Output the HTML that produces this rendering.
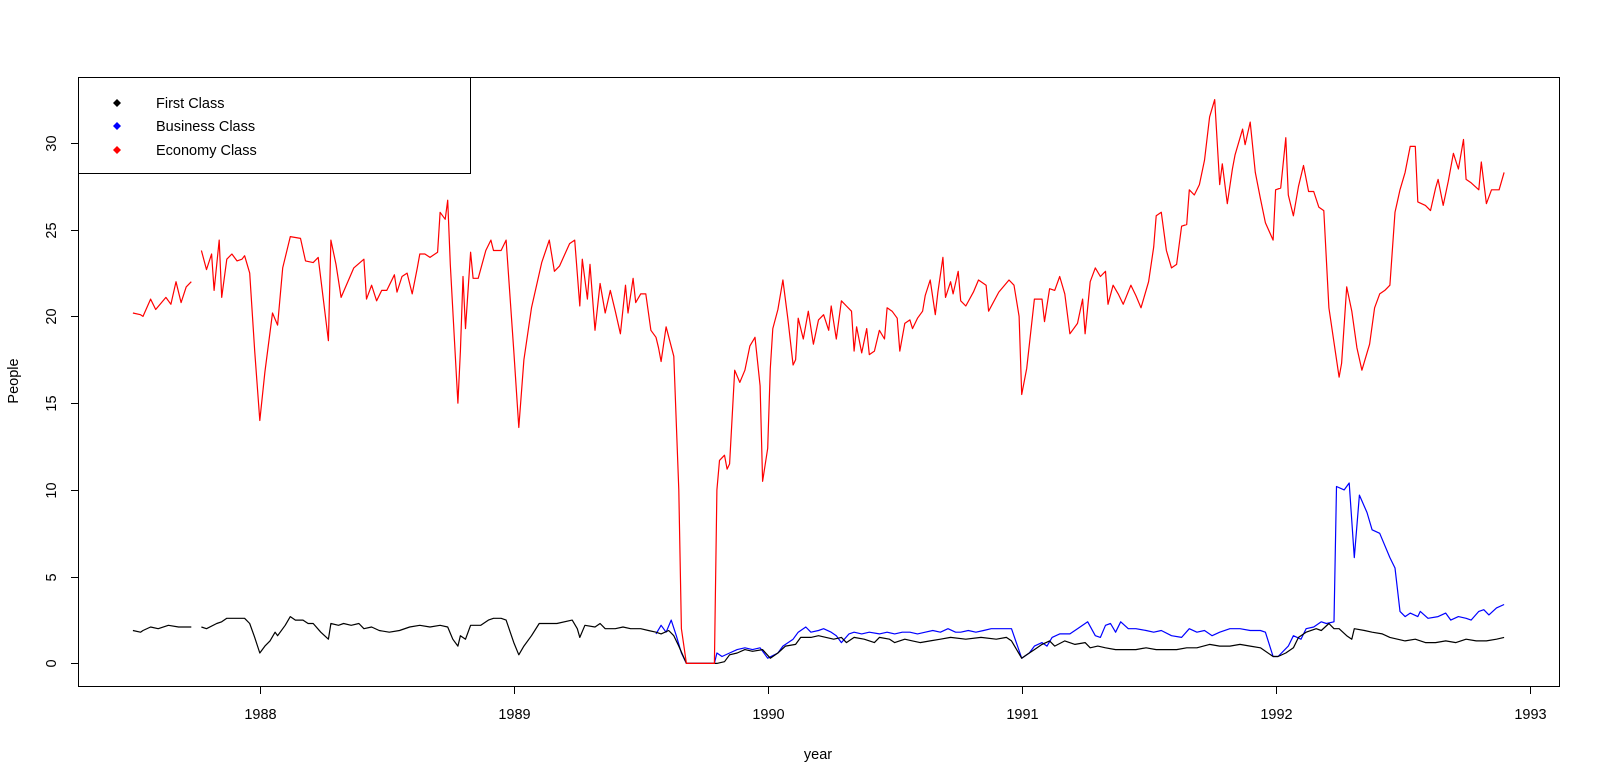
<!DOCTYPE html>
<html><head><meta charset="utf-8">
<style>
html,body{margin:0;padding:0;background:#fff;}
svg{display:block;font-family:"Liberation Sans",Arial,sans-serif;}
</style></head>
<body>
<svg id="chart" width="1600" height="783" viewBox="0 0 1600 783" xmlns="http://www.w3.org/2000/svg">
<rect x="0" y="0" width="1600" height="783" fill="#fff"/>
<g id="series"></g>
<g id="axes"></g>
<rect x="78.5" y="77.5" width="1481" height="609" fill="none" stroke="#000" stroke-width="1"/>
<g>
  <rect x="78.5" y="77.5" width="392" height="96" fill="#fff" stroke="#000" stroke-width="1"/>
  <g>
    <path d="M117 99 L121 103 L117 107 L113 103 Z" fill="#000"/>
    <text x="156" y="108" font-size="14.5" fill="#000">First Class</text>
  </g>
  <g>
    <path d="M117 122 L121 126 L117 130 L113 126 Z" fill="#0000ff"/>
    <text x="156" y="131" font-size="14.5" fill="#000">Business Class</text>
  </g>
  <g>
    <path d="M117 146 L121 150 L117 154 L113 150 Z" fill="#ff0000"/>
    <text x="156" y="155" font-size="14.5" fill="#000">Economy Class</text>
  </g>
</g>
<text x="818" y="759" font-size="14.5" text-anchor="middle">year</text>
<text x="18" y="381" font-size="14.5" text-anchor="middle" transform="rotate(-90 18 381)">People</text>
</svg>
<script>
const xTicks = [1988, 1989, 1990, 1991, 1992, 1993];
const yTicks = [0, 5, 10, 15, 20, 25, 30];

const ecoYears = [1987.50,1987.53,1987.54,1987.57,1987.59,1987.63,1987.65,1987.67,1987.69,1987.71,1987.73,null,
1987.77,1987.79,1987.81,1987.82,1987.84,1987.85,1987.87,1987.89,1987.91,1987.93,1987.94,1987.96,1987.98,
1988.00,1988.02,1988.05,1988.07,1988.09,1988.12,1988.16,1988.18,1988.21,1988.23,1988.25,1988.27,1988.28,1988.30,1988.32,1988.37,1988.41,1988.42,1988.44,1988.46,1988.48,1988.50,1988.53,1988.54,1988.56,1988.58,1988.60,1988.62,1988.63,1988.65,1988.67,1988.70,1988.71,1988.73,1988.74,1988.75,1988.78,1988.79,1988.80,1988.81,1988.83,1988.84,1988.86,1988.89,1988.91,1988.92,1988.95,1988.97,
1989.00,1989.02,1989.04,1989.07,1989.11,1989.14,1989.16,1989.18,1989.22,1989.24,1989.26,1989.27,1989.29,1989.30,1989.32,1989.34,1989.36,1989.38,1989.40,1989.42,1989.44,1989.45,1989.47,1989.48,1989.50,1989.52,1989.54,1989.56,1989.57,1989.58,1989.60,1989.63,1989.65,1989.66,1989.68,1989.79,1989.80,1989.81,1989.83,1989.84,1989.85,1989.87,1989.89,1989.91,1989.93,1989.95,1989.97,1989.98,
1990.00,1990.01,1990.02,1990.04,1990.06,1990.08,1990.10,1990.11,1990.12,1990.14,1990.16,1990.18,1990.20,1990.22,1990.24,1990.25,1990.27,1990.29,1990.31,1990.33,1990.34,1990.35,1990.37,1990.39,1990.40,1990.42,1990.44,1990.46,1990.47,1990.49,1990.51,1990.52,1990.54,1990.56,1990.57,1990.59,1990.61,1990.62,1990.64,1990.66,1990.67,1990.69,1990.70,1990.72,1990.73,1990.75,1990.76,1990.78,1990.81,1990.83,1990.86,1990.87,1990.91,1990.95,1990.97,1990.99,
1991.00,1991.02,1991.05,1991.08,1991.09,1991.11,1991.13,1991.15,1991.17,1991.19,1991.22,1991.24,1991.25,1991.27,1991.29,1991.31,1991.33,1991.34,1991.36,1991.38,1991.40,1991.43,1991.45,1991.47,1991.50,1991.52,1991.53,1991.55,1991.57,1991.59,1991.61,1991.63,1991.65,1991.66,1991.68,1991.70,1991.72,1991.74,1991.76,1991.78,1991.79,1991.81,1991.83,1991.84,1991.87,1991.88,1991.90,1991.92,1991.94,1991.96,1991.99,
1992.00,1992.02,1992.04,1992.05,1992.07,1992.09,1992.11,1992.13,1992.15,1992.17,1992.19,1992.21,1992.23,1992.25,1992.26,1992.28,1992.30,1992.32,1992.34,1992.36,1992.37,1992.39,1992.41,1992.43,1992.45,1992.47,1992.49,1992.51,1992.53,1992.55,1992.56,1992.59,1992.61,1992.63,1992.64,1992.66,1992.68,1992.70,1992.72,1992.74,1992.75,1992.77,1992.80,1992.81,1992.83,1992.85,1992.88,1992.90];
const ecoValues = [20.2,20.1,20.0,21.0,20.4,21.1,20.7,22.0,20.8,21.7,22.0,null,
23.8,22.7,23.6,21.5,24.4,21.1,23.3,23.6,23.2,23.3,23.5,22.5,18.0,
14.0,16.8,20.2,19.5,22.8,24.6,24.5,23.2,23.1,23.4,21.0,18.6,24.4,23.0,21.1,22.8,23.3,21.0,21.8,20.9,21.5,21.5,22.4,21.4,22.3,22.5,21.3,22.8,23.6,23.6,23.4,23.7,26.0,25.6,26.7,23.0,15.0,18.0,22.3,19.3,23.7,22.2,22.2,23.8,24.4,23.8,23.8,24.4,
18.0,13.6,17.5,20.5,23.1,24.4,22.6,22.9,24.2,24.4,20.6,23.3,21.0,23.0,19.2,21.9,20.2,21.5,20.3,19.0,21.8,20.2,22.2,20.8,21.3,21.3,19.2,18.8,18.2,17.4,19.4,17.7,10,2,0,0,10,11.7,12,11.2,11.5,16.9,16.2,16.9,18.3,18.8,16,10.5,
12.4,17,19.3,20.4,22.1,19.8,17.2,17.5,19.9,18.7,20.3,18.4,19.8,20.1,19.2,20.6,18.7,20.9,20.6,20.3,18.0,19.4,17.9,19.3,17.8,18.0,19.2,18.7,20.5,20.3,19.9,18.0,19.6,19.8,19.3,19.9,20.3,21.2,22.1,20.1,21.4,23.4,21.1,22.0,21.3,22.6,20.9,20.6,21.4,22.1,21.8,20.3,21.4,22.1,21.8,20.0,
15.5,17.0,21.0,21.0,19.7,21.6,21.5,22.3,21.3,19.0,19.6,21.0,19.0,22.0,22.8,22.3,22.6,20.7,21.8,21.3,20.7,21.8,21.2,20.5,22.0,24.0,25.8,26.0,23.8,22.8,23.0,25.2,25.3,27.3,27.0,27.6,29.0,31.5,32.5,27.6,28.8,26.5,28.5,29.3,30.8,29.9,31.2,28.3,26.8,25.4,24.4,
27.3,27.4,30.3,27.0,25.8,27.5,28.7,27.2,27.2,26.3,26.1,20.5,18.5,16.5,17.3,21.7,20.3,18.2,16.9,17.9,18.4,20.5,21.3,21.5,21.8,26.0,27.3,28.3,29.8,29.8,26.6,26.4,26.1,27.4,27.9,26.4,27.8,29.4,28.5,30.2,27.9,27.7,27.3,28.9,26.5,27.3,27.3,28.3];

const firstYears = [1987.50,1987.53,1987.54,1987.57,1987.60,1987.64,1987.68,1987.71,1987.73,null,
1987.77,1987.79,1987.83,1987.85,1987.87,1987.90,1987.94,1987.96,1987.98,
1988.00,1988.02,1988.04,1988.06,1988.07,1988.10,1988.12,1988.14,1988.17,1988.19,1988.21,1988.24,1988.27,1988.28,1988.31,1988.33,1988.36,1988.39,1988.41,1988.44,1988.47,1988.51,1988.55,1988.59,1988.63,1988.67,1988.71,1988.74,1988.76,1988.78,1988.79,1988.81,1988.83,1988.87,1988.90,1988.92,1988.95,1988.97,
1989.00,1989.02,1989.04,1989.07,1989.10,1989.14,1989.17,1989.23,1989.25,1989.26,1989.28,1989.32,1989.34,1989.36,1989.40,1989.43,1989.46,1989.50,1989.53,1989.56,1989.58,1989.61,1989.63,1989.65,1989.68,1989.80,1989.83,1989.85,1989.88,1989.91,1989.94,1989.98,
1990.01,1990.04,1990.07,1990.11,1990.13,1990.17,1990.20,1990.23,1990.26,1990.29,1990.31,1990.34,1990.38,1990.42,1990.44,1990.48,1990.50,1990.54,1990.57,1990.60,1990.64,1990.68,1990.72,1990.78,1990.84,1990.90,1990.94,1990.96,
1991.00,1991.02,1991.05,1991.08,1991.11,1991.13,1991.17,1991.21,1991.25,1991.27,1991.30,1991.33,1991.37,1991.41,1991.45,1991.49,1991.53,1991.57,1991.61,1991.65,1991.69,1991.74,1991.78,1991.82,1991.86,1991.90,1991.94,1991.99,
1992.01,1992.04,1992.07,1992.09,1992.12,1992.16,1992.18,1992.21,1992.23,1992.25,1992.28,1992.30,1992.31,1992.35,1992.38,1992.42,1992.45,1992.48,1992.51,1992.55,1992.59,1992.63,1992.67,1992.71,1992.75,1992.79,1992.83,1992.87,1992.90];
const firstValues = [1.9,1.8,1.9,2.1,2.0,2.2,2.1,2.1,2.1,null,
2.1,2.0,2.3,2.4,2.6,2.6,2.6,2.3,1.5,
0.6,1.0,1.3,1.8,1.6,2.2,2.7,2.5,2.5,2.3,2.3,1.8,1.4,2.3,2.2,2.3,2.2,2.3,2.0,2.1,1.9,1.8,1.9,2.1,2.2,2.1,2.2,2.1,1.4,1.0,1.6,1.4,2.2,2.2,2.5,2.6,2.6,2.5,
1.2,0.5,1.0,1.6,2.3,2.3,2.3,2.5,2.0,1.5,2.2,2.1,2.3,2.0,2.0,2.1,2.0,2.0,1.9,1.8,1.7,1.9,1.6,1.0,0,0,0.1,0.5,0.6,0.8,0.7,0.8,
0.3,0.6,1.0,1.1,1.5,1.5,1.6,1.5,1.4,1.5,1.2,1.5,1.4,1.2,1.5,1.4,1.2,1.4,1.3,1.2,1.3,1.4,1.5,1.4,1.5,1.4,1.5,1.3,
0.3,0.5,0.8,1.1,1.3,1.0,1.3,1.1,1.2,0.9,1.0,0.9,0.8,0.8,0.8,0.9,0.8,0.8,0.8,0.9,0.9,1.1,1.0,1.0,1.1,1.0,0.9,0.4,
0.4,0.6,0.9,1.5,1.8,2.0,1.9,2.3,2.0,2.0,1.6,1.4,2.0,1.9,1.8,1.7,1.5,1.4,1.3,1.4,1.2,1.2,1.3,1.2,1.4,1.3,1.3,1.4,1.5];

const busYears = [1989.56,1989.58,1989.60,1989.62,1989.64,1989.66,1989.68,1989.79,1989.80,1989.82,1989.85,1989.88,1989.91,1989.94,1989.97,
1990.00,1990.04,1990.06,1990.10,1990.12,1990.15,1990.17,1990.20,1990.22,1990.25,1990.27,1990.29,1990.32,1990.34,1990.37,1990.40,1990.44,1990.47,1990.50,1990.53,1990.56,1990.59,1990.62,1990.65,1990.68,1990.71,1990.74,1990.76,1990.79,1990.82,1990.85,1990.88,1990.91,1990.93,1990.96,
1991.00,1991.03,1991.05,1991.08,1991.10,1991.12,1991.15,1991.19,1991.22,1991.24,1991.26,1991.29,1991.31,1991.33,1991.35,1991.37,1991.39,1991.42,1991.45,1991.49,1991.52,1991.55,1991.59,1991.63,1991.66,1991.69,1991.72,1991.75,1991.78,1991.82,1991.86,1991.90,1991.94,1991.96,1991.99,
1992.01,1992.05,1992.07,1992.10,1992.12,1992.15,1992.18,1992.20,1992.23,1992.24,1992.27,1992.29,1992.31,1992.33,1992.36,1992.38,1992.41,1992.45,1992.47,1992.49,1992.51,1992.53,1992.56,1992.57,1992.60,1992.64,1992.67,1992.69,1992.72,1992.75,1992.77,1992.80,1992.82,1992.84,1992.87,1992.90];
const busValues = [1.7,2.2,1.8,2.5,1.6,0.6,0,0,0.6,0.4,0.6,0.8,0.9,0.8,0.9,
0.3,0.6,1.0,1.4,1.8,2.1,1.8,1.9,2.0,1.8,1.6,1.2,1.7,1.8,1.7,1.8,1.7,1.8,1.7,1.8,1.8,1.7,1.8,1.9,1.8,2.0,1.8,1.8,1.9,1.8,1.9,2.0,2.0,2.0,2.0,
0.3,0.6,1.0,1.2,1.0,1.5,1.7,1.7,2.0,2.2,2.4,1.6,1.5,2.2,2.3,1.8,2.4,2.0,2.0,1.9,1.8,1.9,1.6,1.5,2.0,1.8,1.9,1.6,1.8,2.0,2.0,1.9,1.9,1.8,0.4,
0.4,1.0,1.6,1.4,2.0,2.1,2.4,2.3,2.4,10.2,10.0,10.4,6.1,9.7,8.7,7.7,7.5,6.1,5.5,3.0,2.7,2.9,2.7,3.0,2.6,2.7,2.9,2.5,2.7,2.6,2.5,3.0,3.1,2.8,3.2,3.4];

const X0 = 78, X1 = 1559, Y0 = 686, Y1 = 77;
const xMin = 1987.284, xMax = 1993.116, yMin = -1.3, yMax = 33.8;
function sx(v){ return X0 + (v - xMin) / (xMax - xMin) * (X1 - X0); }
function sy(v){ return Y0 - (v - yMin) / (yMax - yMin) * (Y0 - Y1); }
const NS = "http://www.w3.org/2000/svg";
const seriesG = document.getElementById('series');
const axesG = document.getElementById('axes');

function pathFrom(xs, ys){
  let d = '', pen = false;
  for (let i = 0; i < xs.length; i++){
    if (xs[i] === null || ys[i] === null){ pen = false; continue; }
    d += (pen ? 'L' : 'M') + sx(xs[i]).toFixed(1) + ' ' + sy(ys[i]).toFixed(1) + ' ';
    pen = true;
  }
  return d;
}
function drawLine(xs, ys, color, name){
  const p = document.createElementNS(NS, 'path');
  p.setAttribute('d', pathFrom(xs, ys));
  p.setAttribute('fill', 'none');
  p.setAttribute('stroke', color);
  p.setAttribute('stroke-width', '1.2');
  p.setAttribute('stroke-linejoin', 'round');
  
  
  seriesG.appendChild(p);
}
drawLine(busYears, busValues, '#0000ff', 'business-class-line');
drawLine(firstYears, firstValues, '#000000', 'first-class-line');
drawLine(ecoYears, ecoValues, '#ff0000', 'economy-class-line');

const xl = document.createElementNS(NS, 'line');
xl.setAttribute('x1', sx(xTicks[0])); xl.setAttribute('x2', sx(xTicks[xTicks.length-1]));
xl.setAttribute('y1', 686.5); xl.setAttribute('y2', 686.5);
xl.setAttribute('stroke', '#000');


axesG.appendChild(xl);
xTicks.forEach(t => {
  const l = document.createElementNS(NS, 'line');
  const x = Math.round(sx(t)) + 0.5;
  l.setAttribute('x1', x); l.setAttribute('x2', x);
  l.setAttribute('y1', 686); l.setAttribute('y2', 694);
  l.setAttribute('stroke', '#000');
  
  
  axesG.appendChild(l);
  const tx = document.createElementNS(NS, 'text');
  tx.setAttribute('x', x); tx.setAttribute('y', 719);
  tx.setAttribute('font-size', '14.5'); tx.setAttribute('text-anchor', 'middle');
  tx.textContent = t;
  
  
  axesG.appendChild(tx);
});
const yl = document.createElementNS(NS, 'line');
yl.setAttribute('x1', 78.5); yl.setAttribute('x2', 78.5);
yl.setAttribute('y1', sy(yTicks[0])); yl.setAttribute('y2', sy(yTicks[yTicks.length-1]));
yl.setAttribute('stroke', '#000');


axesG.appendChild(yl);
yTicks.forEach(t => {
  const y = Math.round(sy(t)) + 0.5;
  const l = document.createElementNS(NS, 'line');
  l.setAttribute('x1', 71); l.setAttribute('x2', 78);
  l.setAttribute('y1', y); l.setAttribute('y2', y);
  l.setAttribute('stroke', '#000');
  
  
  axesG.appendChild(l);
  const tx = document.createElementNS(NS, 'text');
  tx.setAttribute('x', 0); tx.setAttribute('y', 0);
  tx.setAttribute('font-size', '14.5'); tx.setAttribute('text-anchor', 'middle');
  tx.setAttribute('transform', 'translate(56 ' + y + ') rotate(-90)');
  tx.textContent = t;
  
  
  axesG.appendChild(tx);
});
</script>
</body></html>
